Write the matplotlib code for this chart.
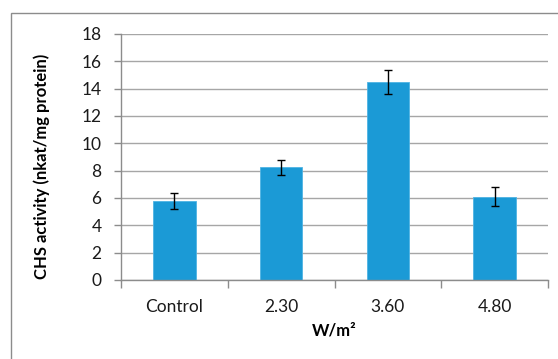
import matplotlib
matplotlib.use("Agg")
import matplotlib.pyplot as plt
from matplotlib.patches import Rectangle
import numpy as np

# CHS activity per UV-B dose
categories = ["Control", "2.30", "3.60", "4.80"]
activity = [5.76, 8.24, 14.49, 6.10]
errors = [0.57, 0.56, 0.85, 0.68]
y_ticks = [0, 2, 4, 6, 8, 10, 12, 14, 16, 18]

plt.rcParams["font.family"] = ["Lato", "DejaVu Sans"]

W, H = 558, 359
fig = plt.figure(figsize=(W / 100, H / 100), dpi=100)
fig.patch.set_facecolor("white")

# chart frame
fig.patches.append(Rectangle((11 / W, -0.1), 1.2, 1.1 - 13 / H, transform=fig.transFigure,
                             fill=False, edgecolor="#8c8c8c", linewidth=1.0, zorder=0))

ax = fig.add_axes([121 / W, 1 - 280 / H, (548 - 121) / W, (280 - 34) / H])

x = np.arange(len(categories))
ax.bar(x, activity, width=0.4, color="#1b9ad6", edgecolor="#4fb3e3", linewidth=0.6, zorder=2)
ax.errorbar(x, activity, yerr=errors, fmt="none", ecolor="black", elinewidth=1.0,
            capsize=3.0, capthick=1.0, zorder=3)

ax.set_xlim(-0.5, len(categories) - 0.5)
ax.set_ylim(0, 18)
ax.set_yticks(y_ticks)
ax.yaxis.grid(True, color="#a6a6a6", linewidth=1.0, zorder=0)
ax.set_axisbelow(True)

ax.set_xticks(x)
ax.set_xticklabels(categories)
ax.set_xticks(np.arange(len(categories) + 1) - 0.5, minor=True)
ax.tick_params(axis="x", which="major", length=0, pad=14, labelsize=12.5, colors="#1a1a1a")
ax.tick_params(axis="x", which="minor", length=6, width=1, color="#8c8c8c")
ax.tick_params(axis="y", length=5, width=1, color="#8c8c8c", pad=9, labelsize=12.5,
               labelcolor="#1a1a1a")

for side in ["top", "right"]:
    ax.spines[side].set_visible(False)
for side in ["left", "bottom"]:
    ax.spines[side].set_color("#8c8c8c")
    ax.spines[side].set_linewidth(1.0)

fig.text(42 / W, 1 - 166 / H, "CHS activity (nkat/mg protein)", rotation=90,
         ha="center", va="center", fontsize=12, fontweight="bold", color="black")
fig.text(334 / W, 1 - 331 / H, "W/m²", ha="center", va="center",
         fontsize=12, fontweight="bold", color="black")

fig.savefig("out.png", dpi=100)
